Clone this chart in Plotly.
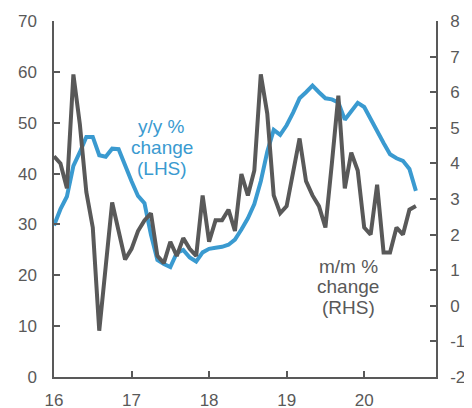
import plotly.graph_objects as go

# Monthly data, Jan 2016 .. Sep 2020
start_year = 2016
yy_change = [29.8, 33.0, 35.5, 41.5, 44.2, 47.2, 47.2, 43.6, 43.3, 44.9, 44.8, 41.5,
             38.5, 35.6, 34.2, 28.0, 23.0, 22.2, 21.6, 24.4, 25.0, 23.5, 22.7, 24.5,
             25.2, 25.4, 25.6, 26.0, 27.0, 29.0, 31.2, 34.0, 38.5, 44.3, 48.6, 47.6,
             49.5, 52.0, 54.8, 56.0, 57.3, 56.0, 54.8, 54.6, 54.0, 50.6, 52.3, 53.9,
             53.1, 50.6, 48.5, 46.0, 43.8, 43.0, 42.5, 40.9, 36.6]
mm_change = [4.2, 4.0, 3.3, 6.5, 5.1, 3.2, 2.2, -0.7, 1.1, 2.9, 2.1, 1.3,
             1.6, 2.1, 2.4, 2.6, 1.4, 1.2, 1.8, 1.4, 1.9, 1.6, 1.4, 3.1,
             1.8, 2.4, 2.4, 2.7, 2.1, 3.7, 3.1, 3.8, 6.5, 5.4, 3.1, 2.6,
             2.8, 3.8, 4.7, 3.5, 3.1, 2.8, 2.2, 4.0, 5.9, 3.3, 4.3, 3.8,
             2.2, 2.0, 3.4, 1.5, 1.5, 2.2, 2.0, 2.7, 2.8]
tick_years = [2016, 2017, 2018, 2019, 2020]
tick_labels = ["16", "17", "18", "19", "20"]
lhs_ticks = [0, 10, 20, 30, 40, 50, 60, 70]
rhs_ticks = [-2, -1, 0, 1, 2, 3, 4, 5, 6, 7, 8]
rhs_labels = ["-2", "-1", "0", "1", "2", "3", "4", "5", "6", "7", "8"]

x = [start_year + i / 12 for i in range(len(yy_change))]

BLUE = "#3a9ad0"
GREY = "#595959"
AX = "#595959"
FONT = "Liberation Sans, Arial, sans-serif"

fig = go.Figure()
fig.add_trace(go.Scatter(x=x, y=yy_change, mode="lines",
                         line=dict(color=BLUE, width=4), yaxis="y"))
fig.add_trace(go.Scatter(x=x, y=mm_change, mode="lines",
                         line=dict(color=GREY, width=4), yaxis="y2"))

axis_common = dict(showline=True, linecolor=AX, linewidth=1.5, ticks="inside",
                   ticklen=6, tickwidth=1.5, tickcolor=AX, showgrid=False,
                   zeroline=False, automargin=False,
                   tickfont=dict(family=FONT, size=17, color=AX))

# the page body adds an 8px offset, so margins are shifted by 8px
fig.update_layout(
    width=472, height=408,
    margin=dict(l=46, r=44, t=13, b=39),
    paper_bgcolor="white", plot_bgcolor="white",
    showlegend=False,
    xaxis=dict(range=[2016, 2020.926], tickvals=tick_years, ticktext=tick_labels,
               ticklabelstandoff=7, **axis_common),
    yaxis=dict(range=[0, 70], tickvals=lhs_ticks, ticklabelstandoff=12, **axis_common),
    yaxis2=dict(range=[-2, 8], tickvals=rhs_ticks, ticktext=rhs_labels,
                overlaying="y", side="right", ticklabelstandoff=9, **axis_common),
)

def label(text, xv, yv, color):
    fig.add_annotation(x=xv, y=yv, xref="x", yref="y", text=text, showarrow=False,
                       xanchor="center", yanchor="middle",
                       font=dict(family=FONT, size=19, color=color))

for t, yv in zip(["y/y %", "change", "(LHS)"], [49.2, 45.1, 41.0]):
    label(t, 2017.387, yv, BLUE)
for t, yv in zip(["m/m %", "change", "(RHS)"], [21.7, 17.7, 13.7]):
    label(t, 2019.793, yv, GREY)

fig.write_html("out.html")
